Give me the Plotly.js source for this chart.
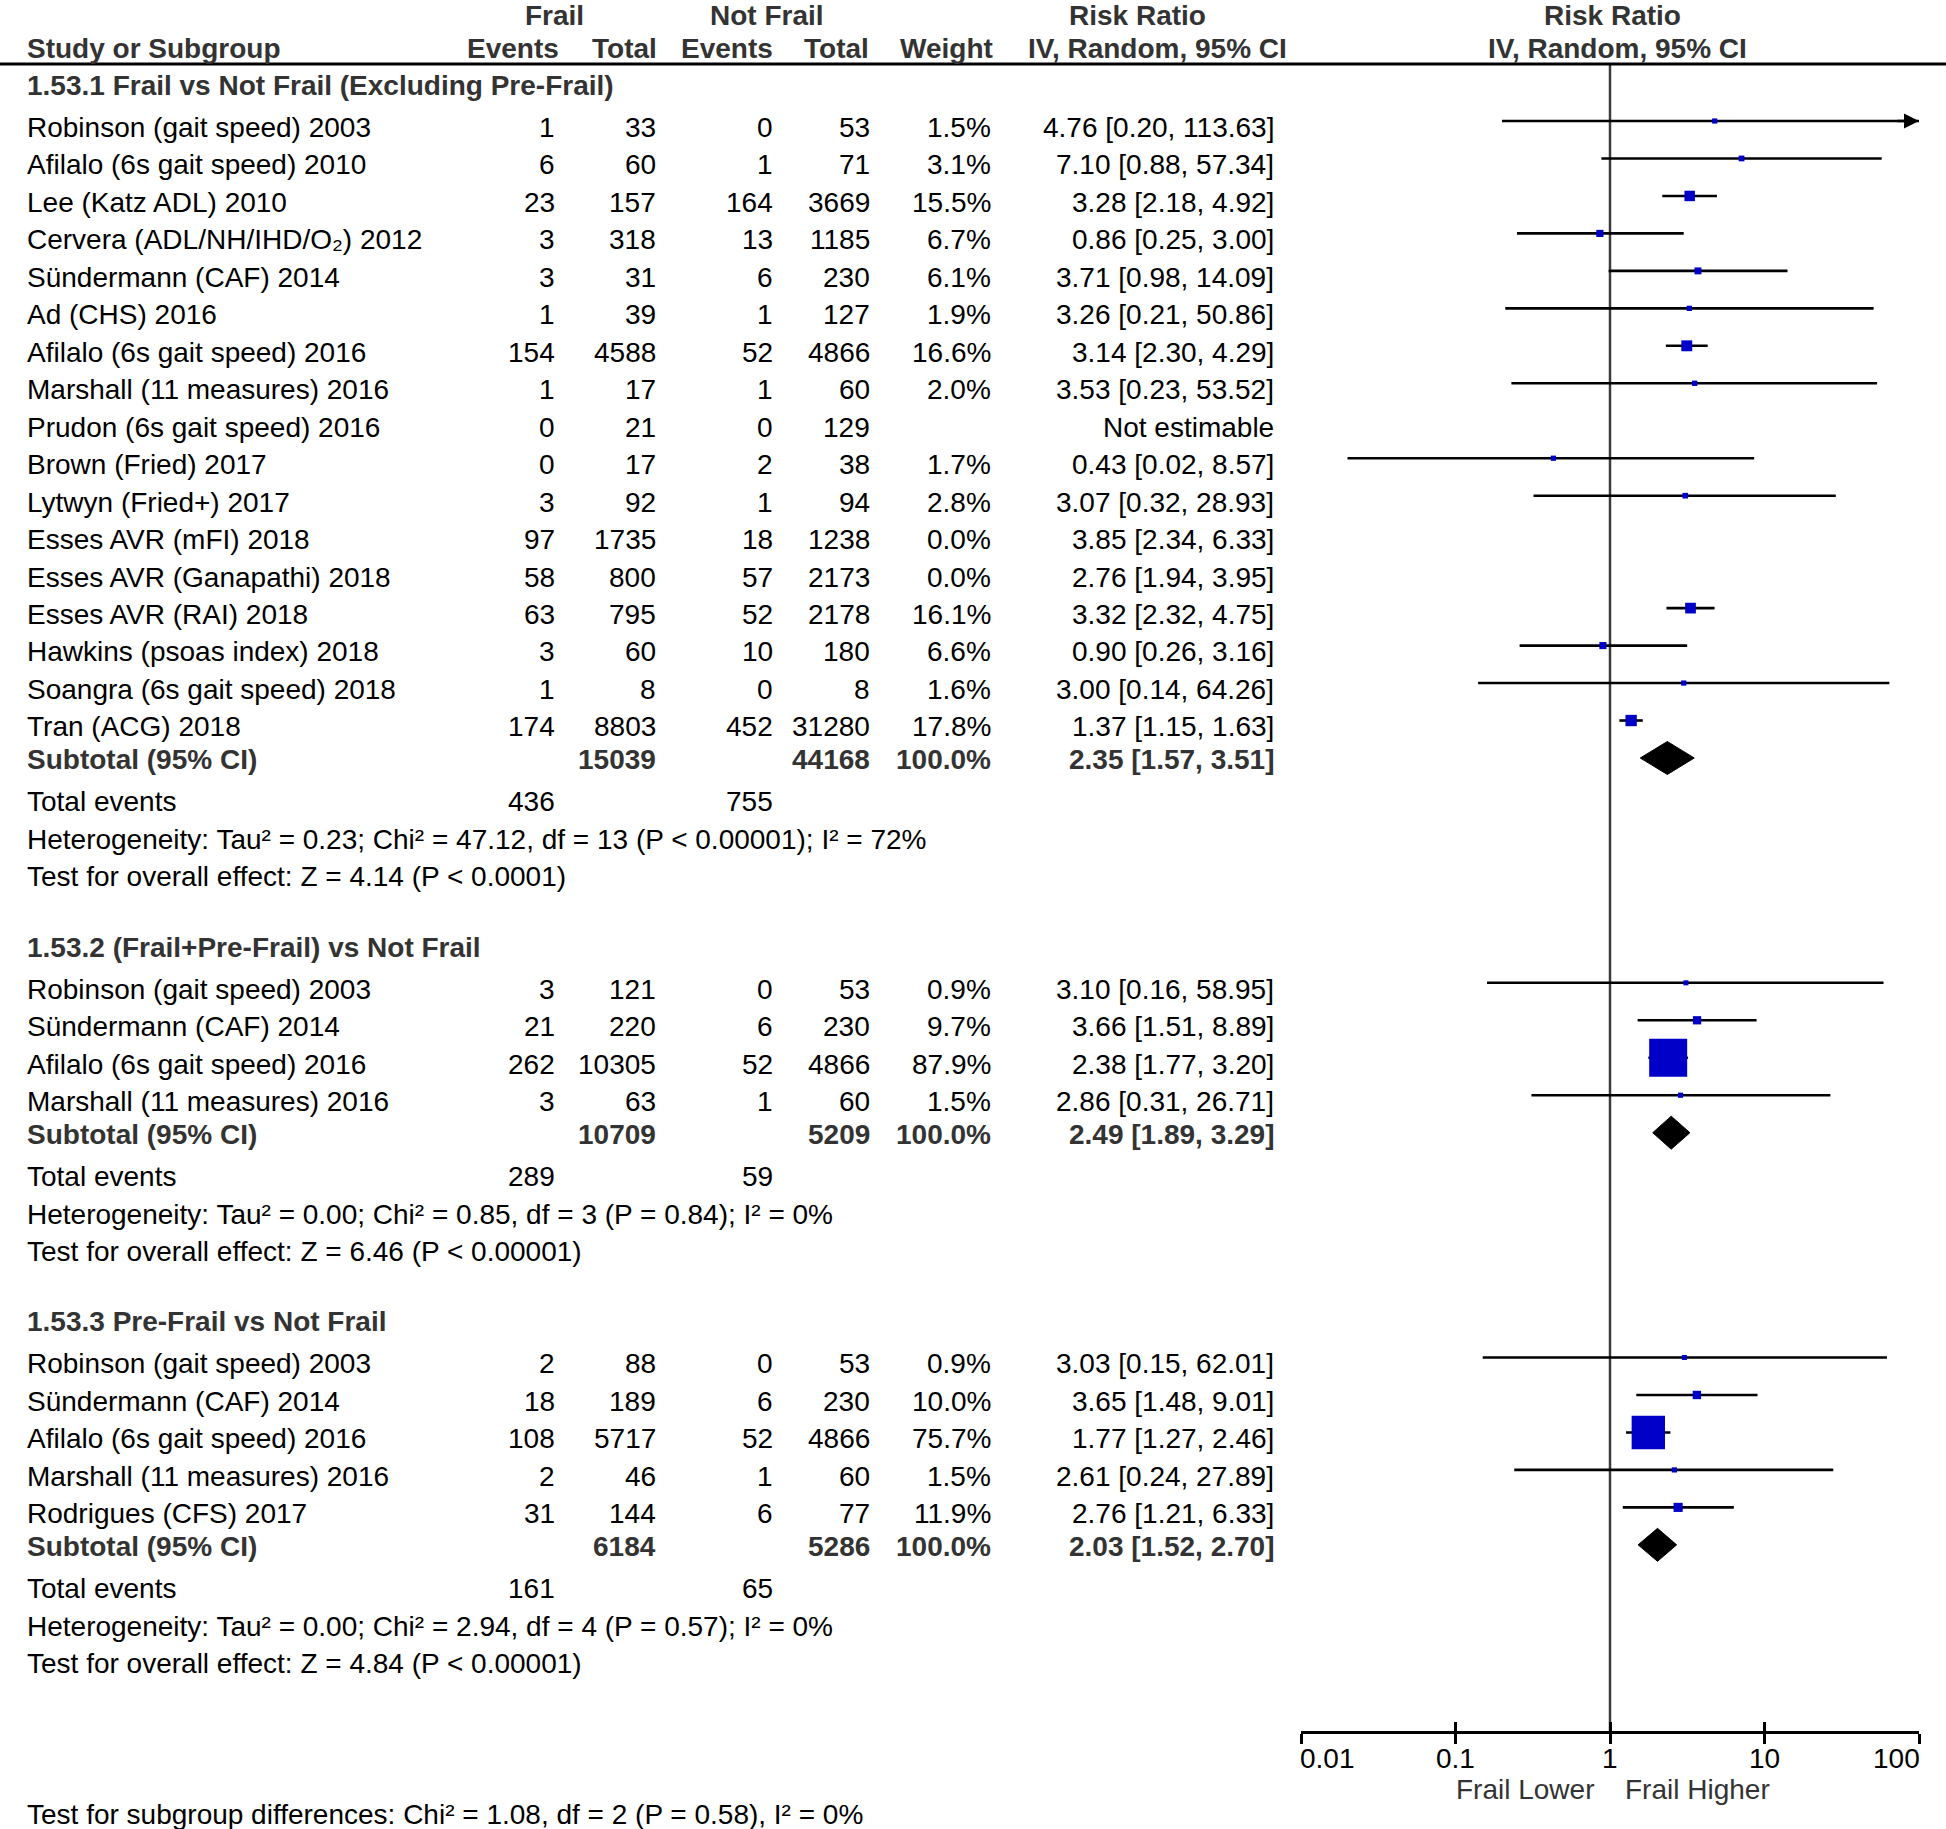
<!DOCTYPE html>
<html><head><meta charset="utf-8">
<script src="https://cdn.plot.ly/plotly-3.0.1.min.js"></script>
<style>html,body{margin:0;padding:0;background:#fff}</style>
</head><body><div id="chart" style="width:1946px;height:1829px"></div>
<script>
// ---------------- DATA ----------------
const groupTitles = ['1.53.1 Frail vs Not Frail (Excluding Pre-Frail)', '1.53.2 (Frail+Pre-Frail) vs Not Frail', '1.53.3 Pre-Frail vs Not Frail'];

const g1Studies = ['Robinson (gait speed) 2003','Afilalo (6s gait speed) 2010','Lee (Katz ADL) 2010','Cervera (ADL/NH/IHD/O₂) 2012','Sündermann (CAF) 2014','Ad (CHS) 2016','Afilalo (6s gait speed) 2016','Marshall (11 measures) 2016','Prudon (6s gait speed) 2016','Brown (Fried) 2017','Lytwyn (Fried+) 2017','Esses AVR (mFI) 2018','Esses AVR (Ganapathi) 2018','Esses AVR (RAI) 2018','Hawkins (psoas index) 2018','Soangra (6s gait speed) 2018','Tran (ACG) 2018'];
const g1FrailEvents = [1,6,23,3,3,1,154,1,0,0,3,97,58,63,3,1,174];
const g1FrailTotal  = [33,60,157,318,31,39,4588,17,21,17,92,1735,800,795,60,8,8803];
const g1NotEvents   = [0,1,164,13,6,1,52,1,0,2,1,18,57,52,10,0,452];
const g1NotTotal    = [53,71,3669,1185,230,127,4866,60,129,38,94,1238,2173,2178,180,8,31280];
const g1Weight      = [1.5,3.1,15.5,6.7,6.1,1.9,16.6,2.0,null,1.7,2.8,0.0,0.0,16.1,6.6,1.6,17.8];
const g1RR          = [4.76,7.10,3.28,0.86,3.71,3.26,3.14,3.53,null,0.43,3.07,3.85,2.76,3.32,0.90,3.00,1.37];
const g1Lo          = [0.20,0.88,2.18,0.25,0.98,0.21,2.30,0.23,null,0.02,0.32,2.34,1.94,2.32,0.26,0.14,1.15];
const g1Hi          = [113.63,57.34,4.92,3.00,14.09,50.86,4.29,53.52,null,8.57,28.93,6.33,3.95,4.75,3.16,64.26,1.63];

const g2Studies = ['Robinson (gait speed) 2003','Sündermann (CAF) 2014','Afilalo (6s gait speed) 2016','Marshall (11 measures) 2016'];
const g2FrailEvents = [3,21,262,3];
const g2FrailTotal  = [121,220,10305,63];
const g2NotEvents   = [0,6,52,1];
const g2NotTotal    = [53,230,4866,60];
const g2Weight      = [0.9,9.7,87.9,1.5];
const g2RR          = [3.10,3.66,2.38,2.86];
const g2Lo          = [0.16,1.51,1.77,0.31];
const g2Hi          = [58.95,8.89,3.20,26.71];

const g3Studies = ['Robinson (gait speed) 2003','Sündermann (CAF) 2014','Afilalo (6s gait speed) 2016','Marshall (11 measures) 2016','Rodrigues (CFS) 2017'];
const g3FrailEvents = [2,18,108,2,31];
const g3FrailTotal  = [88,189,5717,46,144];
const g3NotEvents   = [0,6,52,1,6];
const g3NotTotal    = [53,230,4866,60,77];
const g3Weight      = [0.9,10.0,75.7,1.5,11.9];
const g3RR          = [3.03,3.65,1.77,2.61,2.76];
const g3Lo          = [0.15,1.48,1.27,0.24,1.21];
const g3Hi          = [62.01,9.01,2.46,27.89,6.33];

const subFrailTotal = [15039,10709,6184];
const subNotTotal   = [44168,5209,5286];
const subRR         = [2.35,2.49,2.03];
const subLo         = [1.57,1.89,1.52];
const subHi         = [3.51,3.29,2.70];
const totFrailEvents = [436,289,161];
const totNotEvents   = [755,59,65];
const heterogeneity = ['Heterogeneity: Tau² = 0.23; Chi² = 47.12, df = 13 (P < 0.00001); I² = 72%','Heterogeneity: Tau² = 0.00; Chi² = 0.85, df = 3 (P = 0.84); I² = 0%','Heterogeneity: Tau² = 0.00; Chi² = 2.94, df = 4 (P = 0.57); I² = 0%'];
const overallTest = ['Test for overall effect: Z = 4.14 (P < 0.0001)','Test for overall effect: Z = 6.46 (P < 0.00001)','Test for overall effect: Z = 4.84 (P < 0.00001)'];
const subgroupTest = 'Test for subgroup differences: Chi² = 1.08, df = 2 (P = 0.58), I² = 0%';

const axisTicks = [0.01,0.1,1,10,100];
const axisTickText = ['0.01','0.1','1','10','100'];
const favourLeft = 'Frail Lower', favourRight = 'Frail Higher';

// ---------------- LAYOUT CONSTANTS ----------------
const W = 1946, H = 1829;
const ROWPX = 37.47, ROW0PX = 121;
const yRange = [(H - ROW0PX) / ROWPX, -ROW0PX / ROWPX];
const FONT = '"Liberation Sans", Arial, Helvetica, sans-serif';
const FS = 28;
const TXT = '#000', BOLDC = '#333';
const col = {name: 25, fEv: 557, fTot: 658, nEv: 775, nTot: 872, wt: 993, rr: 1276};
const OFF_REG = 0.17, OFF_BOLD = 0.05;
const xDomain = [1301 / W, 1919 / W];

const groups = [
  {studies:g1Studies, fe:g1FrailEvents, ft:g1FrailTotal, ne:g1NotEvents, nt:g1NotTotal, w:g1Weight, rr:g1RR, lo:g1Lo, hi:g1Hi},
  {studies:g2Studies, fe:g2FrailEvents, ft:g2FrailTotal, ne:g2NotEvents, nt:g2NotTotal, w:g2Weight, rr:g2RR, lo:g2Lo, hi:g2Hi},
  {studies:g3Studies, fe:g3FrailEvents, ft:g3FrailTotal, ne:g3NotEvents, nt:g3NotTotal, w:g3Weight, rr:g3RR, lo:g3Lo, hi:g3Hi}
];

const ann = [];
function txt(px, row, s, anchor, bold, color) {
  ann.push({xref:'paper', yref:'y', x: px / W, y: row + (bold ? OFF_BOLD : OFF_REG),
    text: bold ? '<b>' + s + '</b>' : s, showarrow:false, xanchor:anchor, yanchor:'middle',
    font:{family:FONT, size:FS, color: color || (bold ? BOLDC : TXT)}});
}
const fmt2 = v => v.toFixed(2);
const ciText = (r, l, h) => fmt2(r) + ' [' + fmt2(l) + ', ' + fmt2(h) + ']';

// header
const hRow1 = -3 + 0.13, hRow2 = -2 + 0.01;
txt(554, hRow1, 'Frail', 'center', true);
txt(767, hRow1, 'Not Frail', 'center', true);
txt(1137, hRow1, 'Risk Ratio', 'center', true);
txt(1612, hRow1, 'Risk Ratio', 'center', true);
txt(col.name, hRow2, 'Study or Subgroup', 'left', true);
txt(561, hRow2, 'Events', 'right', true);
txt(659, hRow2, 'Total', 'right', true);
txt(775, hRow2, 'Events', 'right', true);
txt(871, hRow2, 'Total', 'right', true);
txt(995, hRow2, 'Weight', 'right', true);
txt(1157, hRow2, 'IV, Random, 95% CI', 'center', true);
txt(1617, hRow2, 'IV, Random, 95% CI', 'center', true);
const ruleRow = -1.52;

// marks
const ciX = [], ciY = [], sqX = [], sqY = [], sqS = [];
const traces = [];
const arrows = [];
const xMax = axisTicks[axisTicks.length - 1];
let r = -1;
groups.forEach((g, gi) => {
  txt(col.name, r, groupTitles[gi], 'left', true);
  r += 1;
  g.studies.forEach((name, i) => {
    txt(col.name, r, name, 'left', false);
    txt(col.fEv, r, String(g.fe[i]), 'right', false);
    txt(col.fTot, r, String(g.ft[i]), 'right', false);
    txt(col.nEv, r, String(g.ne[i]), 'right', false);
    txt(col.nTot, r, String(g.nt[i]), 'right', false);
    if (g.w[i] !== null) txt(col.wt, r, g.w[i].toFixed(1) + '%', 'right', false);
    txt(col.rr, r, g.rr[i] === null ? 'Not estimable' : ciText(g.rr[i], g.lo[i], g.hi[i]), 'right', false);
    if (g.rr[i] !== null && g.w[i] > 0) {
      ciX.push(Math.max(g.lo[i], axisTicks[0]), Math.min(g.hi[i], xMax), null);
      ciY.push(r, r, null);
      sqX.push(g.rr[i]); sqY.push(r); sqS.push(Math.max(5, 4.6 + 0.38 * g.w[i]));
      if (g.hi[i] > xMax) {
        arrows.push({xref:'x', yref:'y', axref:'x', ayref:'y', x: Math.log10(xMax), y: r,
          ax: Math.log10(xMax) - 0.15, ay: r, text:'', showarrow:true,
          arrowhead:2, arrowsize:1.2, arrowwidth:2.5, arrowcolor:'#000', standoff:0});
      }
    }
    r += 1;
  });
  // subtotal
  txt(col.name, r, 'Subtotal (95% CI)', 'left', true);
  txt(col.fTot, r, String(subFrailTotal[gi]), 'right', true);
  txt(col.nTot, r, String(subNotTotal[gi]), 'right', true);
  txt(col.wt, r, '100.0%', 'right', true);
  txt(col.rr, r, ciText(subRR[gi], subLo[gi], subHi[gi]), 'right', true);
  const hh = 0.44;
  traces.push({type:'scatter', mode:'lines', x:[subLo[gi], subRR[gi], subHi[gi], subRR[gi], subLo[gi]],
    y:[r, r - hh, r, r + hh, r], fill:'toself', fillcolor:'#000', line:{color:'#000', width:1},
    hoverinfo:'skip', xaxis:'x', yaxis:'y'});
  r += 1;
  txt(col.name, r, 'Total events', 'left', false);
  txt(col.fEv, r, String(totFrailEvents[gi]), 'right', false);
  txt(col.nEv, r, String(totNotEvents[gi]), 'right', false);
  r += 1;
  txt(col.name, r, heterogeneity[gi], 'left', false);
  r += 1;
  txt(col.name, r, overallTest[gi], 'left', false);
  r += 2;
});
const axisRow = r; // one blank row after the last test line
const axisPos = (yRange[0] - axisRow) / (yRange[0] - yRange[1]);

// tick labels & favour labels
axisTicks.forEach((v, i) => {
  ann.push({xref:'x', yref:'y', x: Math.log10(v), y: axisRow + 0.69, text: axisTickText[i], showarrow:false,
    xanchor: i === 0 ? 'left' : (i === axisTicks.length - 1 ? 'right' : 'center'), yanchor:'middle',
    xshift: i === 0 ? -3 : (i === axisTicks.length - 1 ? 3 : 0),
    font:{family:FONT, size:FS, color:'#000'}});
});
ann.push({xref:'x', yref:'y', x:0, y: axisRow + 1.54, text:favourLeft, showarrow:false, xanchor:'right', yanchor:'middle', xshift:-14, font:{family:FONT, size:FS, color:'#333'}});
ann.push({xref:'x', yref:'y', x:0, y: axisRow + 1.54, text:favourRight, showarrow:false, xanchor:'left', yanchor:'middle', xshift:13, font:{family:FONT, size:FS, color:'#333'}});
ann.push({xref:'paper', yref:'y', x: col.name / W, y: axisRow + 2.2, text: subgroupTest, showarrow:false, xanchor:'left', yanchor:'middle', font:{family:FONT, size:FS, color:'#000'}});

// null line
traces.unshift({type:'scatter', mode:'lines', x:[1, 1], y:[ruleRow, axisRow], line:{color:'#3c3c3c', width:2.5}, hoverinfo:'skip', xaxis:'x', yaxis:'y'});
traces.push({type:'scatter', mode:'lines', x:ciX, y:ciY, line:{color:'#000', width:2.6}, hoverinfo:'skip', connectgaps:false, xaxis:'x', yaxis:'y'});
traces.push({type:'scatter', mode:'markers', x:sqX, y:sqY, marker:{symbol:'square', size:sqS, color:'#0000c8', opacity:1, line:{width:0}}, hoverinfo:'skip', xaxis:'x', yaxis:'y'});
// dummy for overlay axis
traces.push({type:'scatter', mode:'markers', x:[1], y:[axisRow], marker:{opacity:0}, hoverinfo:'skip', xaxis:'x2', yaxis:'y'});

const layout = {
  width: W, height: H, margin:{l:0, r:0, t:0, b:0, pad:0},
  paper_bgcolor:'#fff', plot_bgcolor:'rgba(0,0,0,0)', showlegend:false,
  xaxis:{type:'log', domain:xDomain, range:[-2, 2], anchor:'free', position:axisPos,
    showline:true, linecolor:'#000', linewidth:3, ticks:'outside', ticklen:10, tickwidth:3, tickcolor:'#000',
    tickvals:axisTicks, showticklabels:false, showgrid:false, zeroline:false, fixedrange:true},
  xaxis2:{type:'log', domain:xDomain, range:[-2, 2], anchor:'free', position:axisPos, overlaying:'x',
    showline:false, ticks:'inside', ticklen:10, tickwidth:3, tickcolor:'#000',
    tickvals:axisTicks, showticklabels:false, showgrid:false, zeroline:false, fixedrange:true},
  yaxis:{domain:[0,1], range:yRange, visible:false, showgrid:false, zeroline:false, fixedrange:true},
  shapes:[{type:'line', xref:'paper', yref:'y', x0:0, x1:1, y0:ruleRow, y1:ruleRow, line:{color:'#000', width:3}}],
  annotations: ann.concat(arrows)
};
Plotly.newPlot('chart', traces, layout, {displayModeBar:false, staticPlot:true});
</script>
</body></html>
